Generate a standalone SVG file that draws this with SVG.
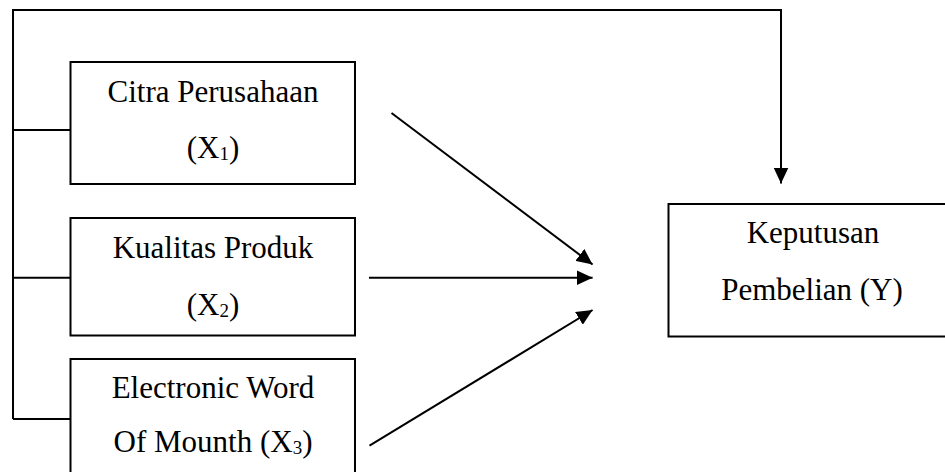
<svg xmlns="http://www.w3.org/2000/svg" width="945" height="472" viewBox="0 0 945 472">
<style>
.box{fill:#fff;stroke:#000;stroke-width:2}
.t{font-family:"Liberation Serif","Times New Roman",serif;font-size:31px;fill:#000;text-anchor:middle}
.sub{font-size:19px}
.ln{fill:none;stroke:#000;stroke-width:2}
</style>
<defs>
<marker id="ah" markerUnits="userSpaceOnUse" markerWidth="16" markerHeight="15" refX="16" refY="7.5" orient="auto">
<path d="M0,0 L16,7.5 L0,15 z" fill="#000"/>
</marker>
</defs>
<rect width="945" height="472" fill="#fff"/>
<g id="x1">
<rect class="box" x="70.5" y="62" width="284.5" height="122"/>
<text class="t" x="213" y="101.5">Citra Perusahaan</text>
<text class="t" x="213" y="158.3">(X<tspan class="sub" dy="2">1</tspan><tspan dy="-2">)</tspan></text>
</g>
<g id="x2">
<rect class="box" x="70.5" y="218" width="284.5" height="117.5"/>
<text class="t" x="213" y="257.5">Kualitas Produk</text>
<text class="t" x="213" y="315">(X<tspan class="sub" dy="2">2</tspan><tspan dy="-2">)</tspan></text>
</g>
<g id="x3">
<rect class="box" x="70.5" y="359" width="284.5" height="130"/>
<text class="t" x="213" y="398.3">Electronic Word</text>
<text class="t" x="213" y="451.7">Of Mounth (X<tspan class="sub" dy="2">3</tspan><tspan dy="-2">)</tspan></text>
</g>
<g id="y">
<rect class="box" x="668.5" y="204" width="292" height="132.5"/>
<text class="t" x="813" y="243.3">Keputusan</text>
<text class="t" x="812" y="300">Pembelian (Y)</text>
</g>
<g id="connectors">
<polyline class="ln" points="70.5,130 13,130"/>
<polyline class="ln" points="70.5,277.7 13,277.7"/>
<polyline class="ln" points="70.5,419 13,419"/>
<polyline class="ln" points="13,419 13,10 781,10 781,183.5" marker-end="url(#ah)"/>
<line class="ln" x1="391.5" y1="113" x2="592.6" y2="264.5" marker-end="url(#ah)"/>
<line class="ln" x1="369" y1="277.7" x2="592.6" y2="277.7" marker-end="url(#ah)"/>
<line class="ln" x1="369.5" y1="445.7" x2="592.6" y2="310" marker-end="url(#ah)"/>
</g>
</svg>
